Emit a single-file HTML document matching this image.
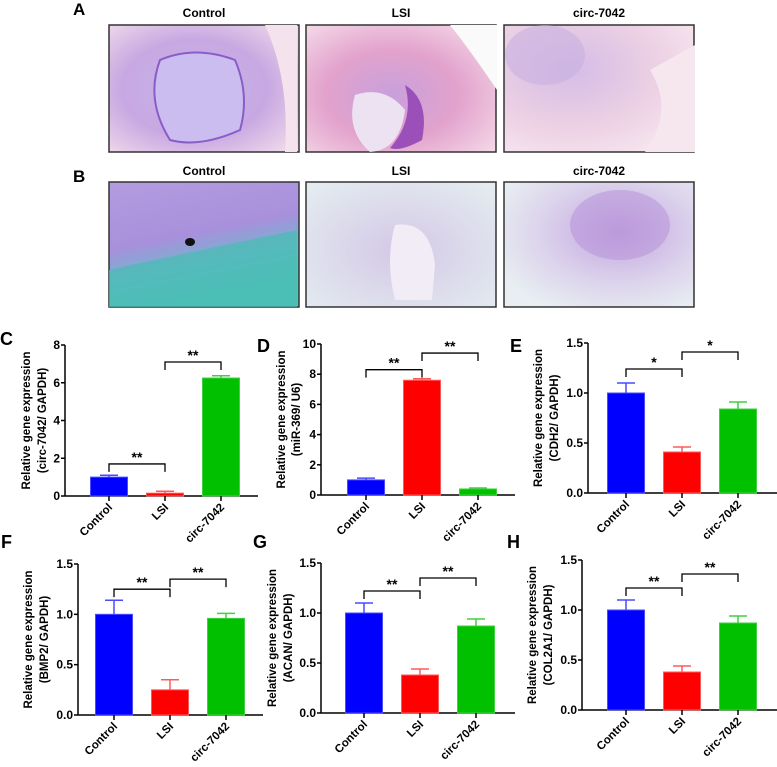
<!DOCTYPE html>
<html><head><meta charset="utf-8">
<style>
body{margin:0;background:#fff;width:777px;height:767px;overflow:hidden;font-family:"Liberation Sans",Arial,sans-serif}
svg{display:block}
</style></head><body>
<svg id="fig" width="777" height="767" viewBox="0 0 777 767">
<defs>
<radialGradient id="hA1" cx="45%" cy="50%" r="70%"><stop offset="0" stop-color="#c4b4ea"/><stop offset="0.55" stop-color="#c8a8e2"/><stop offset="1" stop-color="#f0dcea"/></radialGradient>
<radialGradient id="hA2" cx="45%" cy="55%" r="70%"><stop offset="0" stop-color="#c8a0dc"/><stop offset="0.5" stop-color="#e2a2cc"/><stop offset="1" stop-color="#f4d8e8"/></radialGradient>
<radialGradient id="hA3" cx="35%" cy="35%" r="75%"><stop offset="0" stop-color="#d4bce6"/><stop offset="0.6" stop-color="#ecd0e4"/><stop offset="1" stop-color="#f6e4ee"/></radialGradient>
<linearGradient id="hB1" x1="0" y1="0" x2="0.3" y2="1"><stop offset="0" stop-color="#b49ce0"/><stop offset="0.5" stop-color="#a890dc"/><stop offset="0.75" stop-color="#6cb8cc"/><stop offset="1" stop-color="#50c4b8"/></linearGradient>
<radialGradient id="hB2" cx="50%" cy="55%" r="70%"><stop offset="0" stop-color="#d4c8e6"/><stop offset="1" stop-color="#e4ecf0"/></radialGradient>
<radialGradient id="hB3" cx="60%" cy="40%" r="70%"><stop offset="0" stop-color="#c4a4e0"/><stop offset="0.6" stop-color="#dcd4ec"/><stop offset="1" stop-color="#e8eef2"/></radialGradient>
</defs>
<g id="histo"></g>
<g id="charts"></g>
</svg>
<script>
const NS="http://www.w3.org/2000/svg";
function mk(parent,tag,attrs,text){const e=document.createElementNS(NS,tag);for(const k in attrs)e.setAttribute(k,attrs[k]);if(text!==undefined)e.textContent=text;parent.appendChild(e);return e;}
const histo=document.getElementById('histo');
const lA=mk(histo,'text',{x:73,y:15,'font-size':17,'font-weight':'bold'},'A');


const lB=mk(histo,'text',{x:73,y:182,'font-size':17,'font-weight':'bold'},'B');


const imgGroups=['Control','LSI','circ-7042'];
const imgX=[109,306,504];
const rowsY=[[25,127,'hA','row-a',17],[182,125,'hB','row-b',175]];
rowsY.forEach((r,ri)=>{
  imgGroups.forEach((g,i)=>{
    const t=mk(histo,'text',{x:imgX[i]+95,y:r[4],'font-size':12,'font-weight':'bold','text-anchor':'middle'},g);
    
    
    const rc=mk(histo,'rect',{x:imgX[i],y:r[0],width:190,height:r[1],fill:'url(#'+r[2]+(i+1)+')',stroke:'#333','stroke-width':1.5});
    
    
  });
});
mk(histo,'path',{d:'M160 60 Q195 45 235 60 Q250 95 240 130 Q200 148 170 140 Q145 100 160 60Z',fill:'#cbbdf0',stroke:'#8a5cc8','stroke-width':2});
mk(histo,'path',{d:'M265 25 L297 25 L297 152 L285 152 Q290 80 265 25Z',fill:'#f4e2ec'});
mk(histo,'path',{d:'M355 95 Q385 85 405 110 Q400 150 370 152 Q345 130 355 95Z',fill:'#ece2f2'});
mk(histo,'path',{d:'M405 85 Q430 100 422 140 Q400 152 390 148 Q415 120 405 85Z',fill:'#9a50b8'});
mk(histo,'path',{d:'M450 25 L497 25 L497 90 Q470 50 450 25Z',fill:'#fafafa'});
mk(histo,'path',{d:'M650 70 L695 45 L695 152 L645 152 Q675 110 650 70Z',fill:'#f6e6ee'});
mk(histo,'ellipse',{cx:545,cy:55,rx:40,ry:30,fill:'#c8b0e0',opacity:0.6});
mk(histo,'path',{d:'M109 270 Q200 250 297 230 L297 307 L109 307Z',fill:'#48bcb4',opacity:0.7});
mk(histo,'ellipse',{cx:190,cy:242,rx:5,ry:4,fill:'#111'});
mk(histo,'path',{d:'M395 225 Q430 220 435 265 L432 300 L395 300 Q385 260 395 225Z',fill:'#f2ecf6'});
mk(histo,'ellipse',{cx:620,cy:225,rx:50,ry:35,fill:'#b490d8',opacity:0.5});

const categories=['Control','LSI','circ-7042'];
const cVals=[1.0,0.15,6.25], cErr=[0.1,0.1,0.12];
const dVals=[1.0,7.6,0.4], dErr=[0.12,0.1,0.06];
const eVals=[1.0,0.41,0.84], eErr=[0.1,0.05,0.07];
const fVals=[1.0,0.25,0.96], fErr=[0.14,0.1,0.05];
const gVals=[1.0,0.38,0.87], gErr=[0.1,0.06,0.07];
const hVals=[1.0,0.38,0.87], hErr=[0.1,0.06,0.07];
const tick8=['0','2','4','6','8'];
const tick10=['0','2','4','6','8','10'];
const tick15=['0.0','0.5','1.0','1.5'];
const colors=['#0000ff','#ff0000','#00c000'];
const edge=['#4a4aff','#ff5a5a','#40d040'];
const cBr=[[0,1,1.7,'**'],[1,2,7.1,'**']];
const dBr=[[0,1,8.3,'**'],[1,2,9.4,'**']];
const eBr=[[0,1,1.24,'*'],[1,2,1.41,'*']];
const fBr=[[0,1,1.25,'**'],[1,2,1.35,'**']];
const gBr=[[0,1,1.22,'**'],[1,2,1.35,'**']];
const hBr=[[0,1,1.22,'**'],[1,2,1.36,'**']];

const charts=[
 {id:'c',L:'C',ax:65,top:345,bot:496,max:8,ticks:tick8,vals:cVals,err:cErr,br:cBr,yl:'(circ-7042/ GAPDH)',lx:0,ly:345,off:44,end:258,t1:-39,t2:-23},
 {id:'d',L:'D',ax:321,top:344,bot:495,max:10,ticks:tick10,vals:dVals,err:dErr,br:dBr,yl:'(miR-369/ U6)',lx:257,ly:352,off:45,end:515,t1:-40,t2:-25},
 {id:'e',L:'E',ax:588,top:343,bot:493,max:1.5,ticks:tick15,vals:eVals,err:eErr,br:eBr,yl:'(CDH2/ GAPDH)',lx:510,ly:352,off:38,end:777,t1:-50,t2:-34},
 {id:'f',L:'F',ax:78,top:564,bot:715,max:1.5,ticks:tick15,vals:fVals,err:fErr,br:fBr,yl:'(BMP2/ GAPDH)',lx:1,ly:548,off:36,end:263,t1:-50,t2:-34},
 {id:'g',L:'G',ax:321,top:563,bot:713,max:1.5,ticks:tick15,vals:gVals,err:gErr,br:gBr,yl:'(ACAN/ GAPDH)',lx:253,ly:548,off:43,end:515,t1:-49,t2:-33},
 {id:'h',L:'H',ax:582,top:560,bot:710,max:1.5,ticks:tick15,vals:hVals,err:hErr,br:hBr,yl:'(COL2A1/ GAPDH)',lx:507,ly:548,off:44,end:777,t1:-50,t2:-34}
];
const root=document.getElementById('charts');
charts.forEach(c=>{
  const g=mk(root,'g',{});
  
  
  const y=v=>c.bot-(v/c.max)*(c.bot-c.top);
  const xc=i=>c.ax+c.off+i*56;
  const pl=mk(g,'text',{x:c.lx,y:c.ly,'font-size':18,'font-weight':'bold'},c.L);
  
  
  const ya=mk(g,'line',{x1:c.ax,y1:c.top,x2:c.ax,y2:c.bot,stroke:'#000','stroke-width':1.5});
  
  
  const xa=mk(g,'line',{x1:c.ax,y1:c.bot,x2:c.end,y2:c.bot,stroke:'#000','stroke-width':1.5});
  
  
  c.ticks.forEach(t=>{
    const v=parseFloat(t),yy=y(v);
    mk(g,'line',{x1:c.ax-4,y1:yy,x2:c.ax,y2:yy,stroke:'#000','stroke-width':1.5});
    const tl=mk(g,'text',{x:c.ax-5,y:yy+4,'font-size':12,'font-weight':'bold','text-anchor':'end'},t);
    
    
  });
  const cy=(c.top+c.bot)/2;
  const yt=mk(g,'text',{transform:`translate(${c.ax},${cy}) rotate(-90)`,'font-size':11.5,'font-weight':'bold','text-anchor':'middle'});
  
  
  mk(yt,'tspan',{x:0,y:c.t1+4},'Relative gene expression');
  mk(yt,'tspan',{x:0,y:c.t2+4},c.yl);
  c.vals.forEach((v,i)=>{
    const x=xc(i);
    const e=c.err[i];
    mk(g,'line',{x1:x,y1:y(v),x2:x,y2:y(v+e),stroke:edge[i],'stroke-width':1.5});
    mk(g,'line',{x1:x-9,y1:y(v+e),x2:x+9,y2:y(v+e),stroke:edge[i],'stroke-width':1.5});
    const b=mk(g,'rect',{x:x-18.5,y:y(v),width:37,height:c.bot-y(v),fill:colors[i],stroke:edge[i],'stroke-width':1});
    
    
    mk(g,'line',{x1:x,y1:c.bot,x2:x,y2:c.bot+5,stroke:'#000','stroke-width':1.5});
    const xl=mk(g,'text',{transform:`translate(${x+4},${c.bot+12}) rotate(-45)`,'font-size':11.5,'font-weight':'bold','text-anchor':'end'},categories[i]);
    
    
  });
  c.br.forEach(b=>{
    const x1=xc(b[0]),x2=xc(b[1]),yy=y(b[2]);
    const p=mk(g,'path',{d:`M${x1} ${yy+8}V${yy}H${x2}V${yy+8}`,fill:'none',stroke:'#000','stroke-width':1.3});
    
    
    const s=mk(g,'text',{x:(x1+x2)/2,y:yy-2,'font-size':14,'font-weight':'bold','text-anchor':'middle'},b[3]);
    
    
  });
});
</script>
</body></html>
